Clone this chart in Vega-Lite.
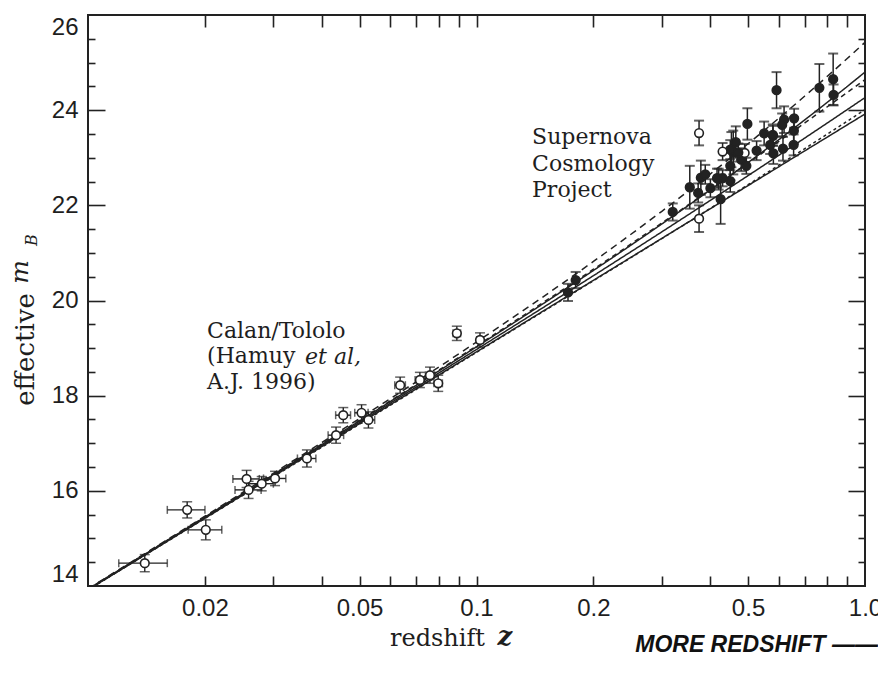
{
  "$schema": "https://vega.github.io/schema/vega-lite/v6.json",
  "width": 777,
  "height": 571,
  "autosize": {"type": "none"},
  "padding": {"left": 88, "top": 15, "right": 13, "bottom": 104},
  "background": "white",
  "title": {
    "text": "MORE REDSHIFT ——",
    "orient": "bottom",
    "anchor": "end",
    "frame": "group",
    "offset": -16,
    "dx": 13,
    "font": "Liberation Sans",
    "fontSize": 23,
    "fontWeight": "bold",
    "fontStyle": "italic",
    "color": "#111"
  },
  "datasets": {
    "models": [
      {"cosmology": "(0,0)", "z": 0.01, "mag": 13.931}, {"cosmology": "(0,0)", "z": 0.02, "mag": 15.447}, {"cosmology": "(0,0)", "z": 0.05, "mag": 17.469}, {"cosmology": "(0,0)", "z": 0.1, "mag": 19.026}, {"cosmology": "(0,0)", "z": 0.2, "mag": 20.632}, {"cosmology": "(0,0)", "z": 0.3, "mag": 21.609}, {"cosmology": "(0,0)", "z": 0.4, "mag": 22.326}, {"cosmology": "(0,0)", "z": 0.5, "mag": 22.899}, {"cosmology": "(0,0)", "z": 0.6, "mag": 23.38}, {"cosmology": "(0,0)", "z": 0.7, "mag": 23.797}, {"cosmology": "(0,0)", "z": 0.8, "mag": 24.166}, {"cosmology": "(0,0)", "z": 0.9, "mag": 24.498}, {"cosmology": "(0,0)", "z": 1.0, "mag": 24.8},
      {"cosmology": "(1,0)", "z": 0.01, "mag": 13.925}, {"cosmology": "(1,0)", "z": 0.02, "mag": 15.436}, {"cosmology": "(1,0)", "z": 0.05, "mag": 17.441}, {"cosmology": "(1,0)", "z": 0.1, "mag": 18.971}, {"cosmology": "(1,0)", "z": 0.2, "mag": 20.522}, {"cosmology": "(1,0)", "z": 0.3, "mag": 21.443}, {"cosmology": "(1,0)", "z": 0.4, "mag": 22.105}, {"cosmology": "(1,0)", "z": 0.5, "mag": 22.624}, {"cosmology": "(1,0)", "z": 0.6, "mag": 23.051}, {"cosmology": "(1,0)", "z": 0.7, "mag": 23.415}, {"cosmology": "(1,0)", "z": 0.8, "mag": 23.731}, {"cosmology": "(1,0)", "z": 0.9, "mag": 24.012}, {"cosmology": "(1,0)", "z": 1.0, "mag": 24.264},
      {"cosmology": "(2,0)", "z": 0.01, "mag": 13.92}, {"cosmology": "(2,0)", "z": 0.02, "mag": 15.425}, {"cosmology": "(2,0)", "z": 0.05, "mag": 17.415}, {"cosmology": "(2,0)", "z": 0.1, "mag": 18.92}, {"cosmology": "(2,0)", "z": 0.2, "mag": 20.425}, {"cosmology": "(2,0)", "z": 0.3, "mag": 21.306}, {"cosmology": "(2,0)", "z": 0.4, "mag": 21.93}, {"cosmology": "(2,0)", "z": 0.5, "mag": 22.415}, {"cosmology": "(2,0)", "z": 0.6, "mag": 22.811}, {"cosmology": "(2,0)", "z": 0.7, "mag": 23.146}, {"cosmology": "(2,0)", "z": 0.8, "mag": 23.435}, {"cosmology": "(2,0)", "z": 0.9, "mag": 23.691}, {"cosmology": "(2,0)", "z": 1.0, "mag": 23.92},
      {"cosmology": "(0,1)", "z": 0.01, "mag": 13.942}, {"cosmology": "(0,1)", "z": 0.02, "mag": 15.468}, {"cosmology": "(0,1)", "z": 0.05, "mag": 17.521}, {"cosmology": "(0,1)", "z": 0.1, "mag": 19.127}, {"cosmology": "(0,1)", "z": 0.2, "mag": 20.821}, {"cosmology": "(0,1)", "z": 0.3, "mag": 21.875}, {"cosmology": "(0,1)", "z": 0.4, "mag": 22.661}, {"cosmology": "(0,1)", "z": 0.5, "mag": 23.295}, {"cosmology": "(0,1)", "z": 0.6, "mag": 23.831}, {"cosmology": "(0,1)", "z": 0.7, "mag": 24.298}, {"cosmology": "(0,1)", "z": 0.8, "mag": 24.712}, {"cosmology": "(0,1)", "z": 0.9, "mag": 25.085}, {"cosmology": "(0,1)", "z": 1.0, "mag": 25.425},
      {"cosmology": "(0.5,0.5)", "z": 0.01, "mag": 13.934}, {"cosmology": "(0.5,0.5)", "z": 0.02, "mag": 15.452}, {"cosmology": "(0.5,0.5)", "z": 0.05, "mag": 17.482}, {"cosmology": "(0.5,0.5)", "z": 0.1, "mag": 19.045}, {"cosmology": "(0.5,0.5)", "z": 0.2, "mag": 20.657}, {"cosmology": "(0.5,0.5)", "z": 0.3, "mag": 21.629}, {"cosmology": "(0.5,0.5)", "z": 0.4, "mag": 22.333}, {"cosmology": "(0.5,0.5)", "z": 0.5, "mag": 22.887}, {"cosmology": "(0.5,0.5)", "z": 0.6, "mag": 23.344}, {"cosmology": "(0.5,0.5)", "z": 0.7, "mag": 23.733}, {"cosmology": "(0.5,0.5)", "z": 0.8, "mag": 24.072}, {"cosmology": "(0.5,0.5)", "z": 0.9, "mag": 24.372}, {"cosmology": "(0.5,0.5)", "z": 1.0, "mag": 24.641},
      {"cosmology": "(1.5,-0.5)", "z": 0.01, "mag": 13.917}, {"cosmology": "(1.5,-0.5)", "z": 0.02, "mag": 15.42}, {"cosmology": "(1.5,-0.5)", "z": 0.05, "mag": 17.401}, {"cosmology": "(1.5,-0.5)", "z": 0.1, "mag": 18.91}, {"cosmology": "(1.5,-0.5)", "z": 0.2, "mag": 20.416}, {"cosmology": "(1.5,-0.5)", "z": 0.3, "mag": 21.302}, {"cosmology": "(1.5,-0.5)", "z": 0.4, "mag": 21.937}, {"cosmology": "(1.5,-0.5)", "z": 0.5, "mag": 22.434}, {"cosmology": "(1.5,-0.5)", "z": 0.6, "mag": 22.844}, {"cosmology": "(1.5,-0.5)", "z": 0.7, "mag": 23.193}, {"cosmology": "(1.5,-0.5)", "z": 0.8, "mag": 23.498}, {"cosmology": "(1.5,-0.5)", "z": 0.9, "mag": 23.768}, {"cosmology": "(1.5,-0.5)", "z": 1.0, "mag": 24.011}
    ],
    "calan": [
      {"z": 0.014, "z_lo": 0.012, "z_hi": 0.016, "mag": 14.48, "mag_lo": 14.3, "mag_hi": 14.66},
      {"z": 0.018, "z_lo": 0.016, "z_hi": 0.02, "mag": 15.6, "mag_lo": 15.43, "mag_hi": 15.77},
      {"z": 0.0201, "z_lo": 0.0181, "z_hi": 0.0221, "mag": 15.18, "mag_lo": 14.97, "mag_hi": 15.39},
      {"z": 0.0256, "z_lo": 0.0236, "z_hi": 0.0276, "mag": 16.25, "mag_lo": 16.07, "mag_hi": 16.43},
      {"z": 0.0259, "z_lo": 0.0239, "z_hi": 0.0279, "mag": 16.02, "mag_lo": 15.84, "mag_hi": 16.2},
      {"z": 0.028, "z_lo": 0.026, "z_hi": 0.03, "mag": 16.15, "mag_lo": 16.0, "mag_hi": 16.3},
      {"z": 0.0303, "z_lo": 0.0283, "z_hi": 0.0323, "mag": 16.26, "mag_lo": 16.11, "mag_hi": 16.41},
      {"z": 0.0366, "z_lo": 0.0346, "z_hi": 0.0386, "mag": 16.68, "mag_lo": 16.5, "mag_hi": 16.86},
      {"z": 0.0435, "z_lo": 0.0415, "z_hi": 0.0455, "mag": 17.17, "mag_lo": 17.0, "mag_hi": 17.34},
      {"z": 0.0454, "z_lo": 0.0434, "z_hi": 0.0474, "mag": 17.59, "mag_lo": 17.43, "mag_hi": 17.75},
      {"z": 0.0506, "z_lo": 0.0486, "z_hi": 0.0526, "mag": 17.64, "mag_lo": 17.47, "mag_hi": 17.81},
      {"z": 0.0527, "z_lo": 0.0507, "z_hi": 0.0547, "mag": 17.49, "mag_lo": 17.32, "mag_hi": 17.66},
      {"z": 0.0636, "z_lo": 0.0616, "z_hi": 0.0656, "mag": 18.22, "mag_lo": 18.05, "mag_hi": 18.39},
      {"z": 0.0715, "z_lo": 0.0695, "z_hi": 0.0735, "mag": 18.33, "mag_lo": 18.17, "mag_hi": 18.49},
      {"z": 0.0759, "z_lo": 0.0739, "z_hi": 0.0779, "mag": 18.43, "mag_lo": 18.26, "mag_hi": 18.6},
      {"z": 0.0797, "z_lo": 0.0777, "z_hi": 0.0817, "mag": 18.26, "mag_lo": 18.09, "mag_hi": 18.43},
      {"z": 0.089, "z_lo": 0.087, "z_hi": 0.091, "mag": 19.31, "mag_lo": 19.16, "mag_hi": 19.46},
      {"z": 0.1021, "z_lo": 0.1001, "z_hi": 0.1041, "mag": 19.17, "mag_lo": 19.02, "mag_hi": 19.32}
    ],
    "scp": [
      {"sn": "1992bi", "z": 0.458, "mag": 23.11, "mag_lo": 22.65, "mag_hi": 23.57, "fit": "included"},
      {"sn": "1994F", "z": 0.354, "mag": 22.38, "mag_lo": 21.93, "mag_hi": 22.83, "fit": "included"},
      {"sn": "1994G", "z": 0.425, "mag": 22.13, "mag_lo": 21.61, "mag_hi": 22.65, "fit": "included"},
      {"sn": "1994H", "z": 0.374, "mag": 21.72, "mag_lo": 21.44, "mag_hi": 22.0, "fit": "excluded"},
      {"sn": "1994al", "z": 0.42, "mag": 22.55, "mag_lo": 22.33, "mag_hi": 22.77, "fit": "included"},
      {"sn": "1994am", "z": 0.372, "mag": 22.26, "mag_lo": 22.06, "mag_hi": 22.46, "fit": "included"},
      {"sn": "1994an", "z": 0.378, "mag": 22.58, "mag_lo": 22.22, "mag_hi": 22.94, "fit": "included"},
      {"sn": "1995aq", "z": 0.453, "mag": 23.17, "mag_lo": 22.8, "mag_hi": 23.54, "fit": "included"},
      {"sn": "1995ar", "z": 0.465, "mag": 23.33, "mag_lo": 23.0, "mag_hi": 23.66, "fit": "included"},
      {"sn": "1995as", "z": 0.498, "mag": 23.71, "mag_lo": 23.38, "mag_hi": 24.04, "fit": "included"},
      {"sn": "1995at", "z": 0.655, "mag": 23.27, "mag_lo": 23.05, "mag_hi": 23.49, "fit": "included"},
      {"sn": "1995aw", "z": 0.4, "mag": 22.36, "mag_lo": 22.17, "mag_hi": 22.55, "fit": "included"},
      {"sn": "1995ax", "z": 0.615, "mag": 23.19, "mag_lo": 22.94, "mag_hi": 23.44, "fit": "included"},
      {"sn": "1995ay", "z": 0.48, "mag": 22.96, "mag_lo": 22.72, "mag_hi": 23.2, "fit": "included"},
      {"sn": "1995az", "z": 0.45, "mag": 22.51, "mag_lo": 22.28, "mag_hi": 22.74, "fit": "included"},
      {"sn": "1995ba", "z": 0.388, "mag": 22.65, "mag_lo": 22.45, "mag_hi": 22.85, "fit": "included"},
      {"sn": "1996cf", "z": 0.57, "mag": 23.27, "mag_lo": 23.08, "mag_hi": 23.46, "fit": "included"},
      {"sn": "1996cg", "z": 0.49, "mag": 23.1, "mag_lo": 22.91, "mag_hi": 23.29, "fit": "excluded"},
      {"sn": "1996ci", "z": 0.495, "mag": 22.83, "mag_lo": 22.66, "mag_hi": 23.0, "fit": "included"},
      {"sn": "1996ck", "z": 0.656, "mag": 23.57, "mag_lo": 23.29, "mag_hi": 23.85, "fit": "included"},
      {"sn": "1996cl", "z": 0.828, "mag": 24.65, "mag_lo": 24.11, "mag_hi": 25.19, "fit": "included"},
      {"sn": "1996cm", "z": 0.45, "mag": 23.17, "mag_lo": 22.97, "mag_hi": 23.37, "fit": "included"},
      {"sn": "1996cn", "z": 0.43, "mag": 23.13, "mag_lo": 22.95, "mag_hi": 23.31, "fit": "excluded"},
      {"sn": "1997F", "z": 0.58, "mag": 23.46, "mag_lo": 23.25, "mag_hi": 23.67, "fit": "included"},
      {"sn": "1997G", "z": 0.763, "mag": 24.47, "mag_lo": 23.97, "mag_hi": 24.97, "fit": "included"},
      {"sn": "1997H", "z": 0.526, "mag": 23.15, "mag_lo": 22.95, "mag_hi": 23.35, "fit": "included"},
      {"sn": "1997I", "z": 0.172, "mag": 20.17, "mag_lo": 19.99, "mag_hi": 20.35, "fit": "included"},
      {"sn": "1997J", "z": 0.619, "mag": 23.8, "mag_lo": 23.52, "mag_hi": 24.08, "fit": "included"},
      {"sn": "1997K", "z": 0.592, "mag": 24.42, "mag_lo": 24.04, "mag_hi": 24.8, "fit": "included"},
      {"sn": "1997L", "z": 0.55, "mag": 23.51, "mag_lo": 23.26, "mag_hi": 23.76, "fit": "included"},
      {"sn": "1997N", "z": 0.18, "mag": 20.43, "mag_lo": 20.26, "mag_hi": 20.6, "fit": "included"},
      {"sn": "1997O", "z": 0.374, "mag": 23.52, "mag_lo": 23.26, "mag_hi": 23.78, "fit": "excluded"},
      {"sn": "1997P", "z": 0.472, "mag": 23.11, "mag_lo": 22.92, "mag_hi": 23.3, "fit": "included"},
      {"sn": "1997Q", "z": 0.43, "mag": 22.57, "mag_lo": 22.4, "mag_hi": 22.74, "fit": "included"},
      {"sn": "1997R", "z": 0.657, "mag": 23.83, "mag_lo": 23.63, "mag_hi": 24.03, "fit": "included"},
      {"sn": "1997S", "z": 0.612, "mag": 23.69, "mag_lo": 23.45, "mag_hi": 23.93, "fit": "included"},
      {"sn": "1997ac", "z": 0.32, "mag": 21.86, "mag_lo": 21.68, "mag_hi": 22.04, "fit": "included"},
      {"sn": "1997af", "z": 0.579, "mag": 23.48, "mag_lo": 23.26, "mag_hi": 23.7, "fit": "included"},
      {"sn": "1997ai", "z": 0.45, "mag": 22.83, "mag_lo": 22.53, "mag_hi": 23.13, "fit": "included"},
      {"sn": "1997aj", "z": 0.581, "mag": 23.09, "mag_lo": 22.87, "mag_hi": 23.31, "fit": "included"},
      {"sn": "1997am", "z": 0.416, "mag": 22.57, "mag_lo": 22.37, "mag_hi": 22.77, "fit": "included"},
      {"sn": "1997ap", "z": 0.83, "mag": 24.32, "mag_lo": 24.1, "mag_hi": 24.54, "fit": "included"}
    ]
  },
  "layer": [
    {
      "data": {"name": "models"},
      "mark": {"type": "line", "clip": true, "interpolate": "monotone", "strokeWidth": 1.5, "color": "#222"},
      "encoding": {
        "x": {
          "field": "z", "type": "quantitative",
          "scale": {"type": "log", "domain": [0.01, 1], "nice": false},
          "axis": {
            "orient": "bottom",
            "values": [0.02, 0.05, 0.1, 0.2, 0.5, 1],
            "format": "~g",
            "labelExpr": "datum.value >= 1 ? '1.0' : datum.label",
            "ticks": false, "labelPadding": 10, "labelFlush": false,
            "title": "redshift", "titleX": 349, "titleY": 59, "titleAlign": "center", "titleBaseline": "alphabetic"
          }
        },
        "y": {
          "field": "mag", "type": "quantitative",
          "scale": {"domain": [14, 26], "nice": false, "zero": false},
          "axis": {
            "orient": "left",
            "values": [14, 16, 18, 20, 22, 24, 26],
            "ticks": false, "labelPadding": 10, "labelFlush": true,
            "title": "effective", "titleFontSize": 26, "titleX": -55, "titleY": 334, "titleAngle": 270, "titleAlign": "center", "titleBaseline": "alphabetic"
          }
        },
        "strokeDash": {
          "field": "cosmology", "type": "nominal",
          "scale": {"domain": ["(0,0)", "(1,0)", "(2,0)", "(0,1)", "(0.5,0.5)", "(1.5,-0.5)"], "range": [[1, 0], [1, 0], [1, 0], [7, 5], [5, 4], [3, 3]]},
          "legend": null
        }
      }
    },
    {
      "data": {"name": "calan"},
      "mark": {"type": "rule", "strokeWidth": 1.4, "color": "#222"},
      "encoding": {
        "x": {"field": "z", "type": "quantitative", "axis": {"orient": "bottom", "offset": -10, "tickSize": 10, "zindex": 2, "labels": false, "title": null, "values": [0.02, 0.03, 0.04, 0.05, 0.06, 0.07, 0.08, 0.09, 0.1, 0.2, 0.3, 0.4, 0.5, 0.6, 0.7, 0.8, 0.9]}},
        "y": {"field": "mag_lo", "type": "quantitative", "axis": {"orient": "left", "offset": -17, "tickSize": 17, "zindex": 2, "labels": false, "title": null, "values": [16, 18, 20, 22, 24]}},
        "y2": {"field": "mag_hi"}
      }
    },
    {
      "data": {"name": "calan"},
      "mark": {"type": "rule", "strokeWidth": 1.4, "color": "#222"},
      "encoding": {
        "x": {"field": "z_lo", "type": "quantitative", "axis": {"orient": "top", "offset": -12, "tickSize": 12, "zindex": 2, "labels": false, "title": null, "values": [0.02, 0.03, 0.04, 0.05, 0.06, 0.07, 0.08, 0.09, 0.1, 0.2, 0.3, 0.4, 0.5, 0.6, 0.7, 0.8, 0.9]}},
        "x2": {"field": "z_hi"},
        "y": {"field": "mag", "type": "quantitative", "axis": {"orient": "left", "offset": -7, "tickSize": 7, "zindex": 2, "labels": false, "title": null, "values": [14.5, 15, 15.5, 16.5, 17, 17.5, 18.5, 19, 19.5, 20.5, 21, 21.5, 22.5, 23, 23.5, 24.5, 25, 25.5]}}
      }
    },
    {
      "data": {"name": "calan"},
      "mark": {"type": "tick", "orient": "horizontal", "size": 10, "thickness": 1.5, "color": "#222"},
      "encoding": {
        "x": {"field": "z", "type": "quantitative", "axis": null},
        "y": {"field": "mag_lo", "type": "quantitative", "axis": {"orient": "right", "offset": -17, "tickSize": 17, "zindex": 2, "labels": false, "title": null, "values": [16, 18, 20, 22, 24]}}
      }
    },
    {
      "data": {"name": "calan"},
      "mark": {"type": "tick", "orient": "horizontal", "size": 10, "thickness": 1.5, "color": "#222"},
      "encoding": {
        "x": {"field": "z", "type": "quantitative", "axis": null},
        "y": {"field": "mag_hi", "type": "quantitative", "axis": {"orient": "right", "offset": -7, "tickSize": 7, "zindex": 2, "labels": false, "title": null, "values": [14.5, 15, 15.5, 16.5, 17, 17.5, 18.5, 19, 19.5, 20.5, 21, 21.5, 22.5, 23, 23.5, 24.5, 25, 25.5]}}
      }
    },
    {
      "data": {"name": "calan"},
      "mark": {"type": "tick", "orient": "vertical", "size": 8, "thickness": 1.5, "color": "#222"},
      "encoding": {
        "x": {"field": "z_lo", "type": "quantitative", "axis": null},
        "y": {"field": "mag", "type": "quantitative", "axis": null}
      }
    },
    {
      "data": {"name": "calan"},
      "mark": {"type": "tick", "orient": "vertical", "size": 8, "thickness": 1.5, "color": "#222"},
      "encoding": {
        "x": {"field": "z_hi", "type": "quantitative", "axis": null},
        "y": {"field": "mag", "type": "quantitative", "axis": null}
      }
    },
    {
      "data": {"name": "calan"},
      "mark": {"type": "point", "shape": "circle", "filled": true, "fill": "white", "stroke": "#222", "strokeWidth": 1.6, "size": 75, "opacity": 1},
      "encoding": {
        "x": {"field": "z", "type": "quantitative", "axis": null},
        "y": {"field": "mag", "type": "quantitative", "axis": null}
      }
    },
    {
      "data": {"name": "scp"},
      "mark": {"type": "rule", "strokeWidth": 1.5, "color": "#222"},
      "encoding": {
        "x": {"field": "z", "type": "quantitative", "axis": null},
        "y": {"field": "mag_lo", "type": "quantitative", "axis": null},
        "y2": {"field": "mag_hi"}
      }
    },
    {
      "data": {"name": "scp"},
      "mark": {"type": "tick", "orient": "horizontal", "size": 10, "thickness": 2, "color": "#222"},
      "encoding": {
        "x": {"field": "z", "type": "quantitative", "axis": null},
        "y": {"field": "mag_lo", "type": "quantitative", "axis": null}
      }
    },
    {
      "data": {"name": "scp"},
      "mark": {"type": "tick", "orient": "horizontal", "size": 10, "thickness": 2, "color": "#222"},
      "encoding": {
        "x": {"field": "z", "type": "quantitative", "axis": null},
        "y": {"field": "mag_hi", "type": "quantitative", "axis": null}
      }
    },
    {
      "data": {"name": "scp"},
      "mark": {"type": "point", "shape": "circle", "filled": true, "stroke": "#222", "strokeWidth": 1.6, "size": 75, "opacity": 1},
      "encoding": {
        "x": {"field": "z", "type": "quantitative", "axis": null},
        "y": {"field": "mag", "type": "quantitative", "axis": null},
        "fill": {"field": "fit", "type": "nominal", "scale": {"domain": ["included", "excluded"], "range": ["#222", "white"]}, "legend": null}
      }
    },
    {
      "data": {"values": [{}]},
      "mark": {"type": "text", "text": ["Supernova", "Cosmology", "Project"], "align": "left", "baseline": "alphabetic", "font": "DejaVu Serif", "fontSize": 22, "lineHeight": 26.5, "color": "#1e1e1e"},
      "encoding": {
        "x": {"datum": 0.139, "type": "quantitative", "axis": null},
        "y": {"datum": 23.286, "type": "quantitative", "axis": null}
      }
    },
    {
      "data": {"values": [{}]},
      "mark": {"type": "text", "text": ["Calan/Tololo", "(Hamuy", "A.J. 1996)"], "align": "left", "baseline": "alphabetic", "font": "DejaVu Serif", "fontSize": 22, "lineHeight": 25.7, "color": "#1e1e1e"},
      "encoding": {
        "x": {"datum": 0.02025, "type": "quantitative", "axis": null},
        "y": {"datum": 19.216, "type": "quantitative", "axis": null}
      }
    },
    {
      "data": {"values": [{}]},
      "mark": {"type": "text", "text": "et al,", "align": "left", "baseline": "alphabetic", "font": "DejaVu Serif", "fontStyle": "italic", "fontSize": 22, "color": "#1e1e1e"},
      "encoding": {
        "x": {"datum": 0.0362, "type": "quantitative", "axis": null},
        "y": {"datum": 18.676, "type": "quantitative", "axis": null}
      }
    },
    {
      "data": {"values": [{}]},
      "mark": {"type": "text", "text": "m", "angle": 270, "align": "center", "baseline": "alphabetic", "font": "DejaVu Serif", "fontStyle": "italic", "fontSize": 25, "color": "#1e1e1e"},
      "encoding": {
        "x": {"datum": 0.00701, "type": "quantitative", "axis": null},
        "y": {"datum": 20.6, "type": "quantitative", "axis": null}
      }
    },
    {
      "data": {"values": [{}]},
      "mark": {"type": "text", "text": "B", "angle": 270, "align": "center", "baseline": "alphabetic", "font": "DejaVu Serif", "fontStyle": "italic", "fontSize": 16, "color": "#1e1e1e"},
      "encoding": {
        "x": {"datum": 0.00739, "type": "quantitative", "axis": null},
        "y": {"datum": 21.27, "type": "quantitative", "axis": null}
      }
    },
    {
      "data": {"values": [{}]},
      "mark": {"type": "text", "text": "z", "align": "center", "baseline": "alphabetic", "font": "DejaVu Serif", "fontStyle": "italic", "fontWeight": "bold", "fontSize": 26, "color": "#1e1e1e"},
      "encoding": {
        "x": {"datum": 0.1184, "type": "quantitative", "axis": null},
        "y": {"datum": 12.761, "type": "quantitative", "axis": null}
      }
    }
  ],
  "resolve": {"axis": {"x": "independent", "y": "independent"}},
  "config": {
    "view": {"stroke": "#222", "strokeWidth": 2},
    "axis": {
      "grid": false, "domain": false,
      "tickColor": "#222", "tickWidth": 1.6,
      "labelColor": "#1e1e1e", "labelFont": "Liberation Sans", "labelFontSize": 24,
      "labelOverlap": false, "labelBound": false,
      "titleColor": "#1e1e1e", "titleFont": "DejaVu Serif", "titleFontSize": 24, "titleFontWeight": "normal"
    }
  }
}
